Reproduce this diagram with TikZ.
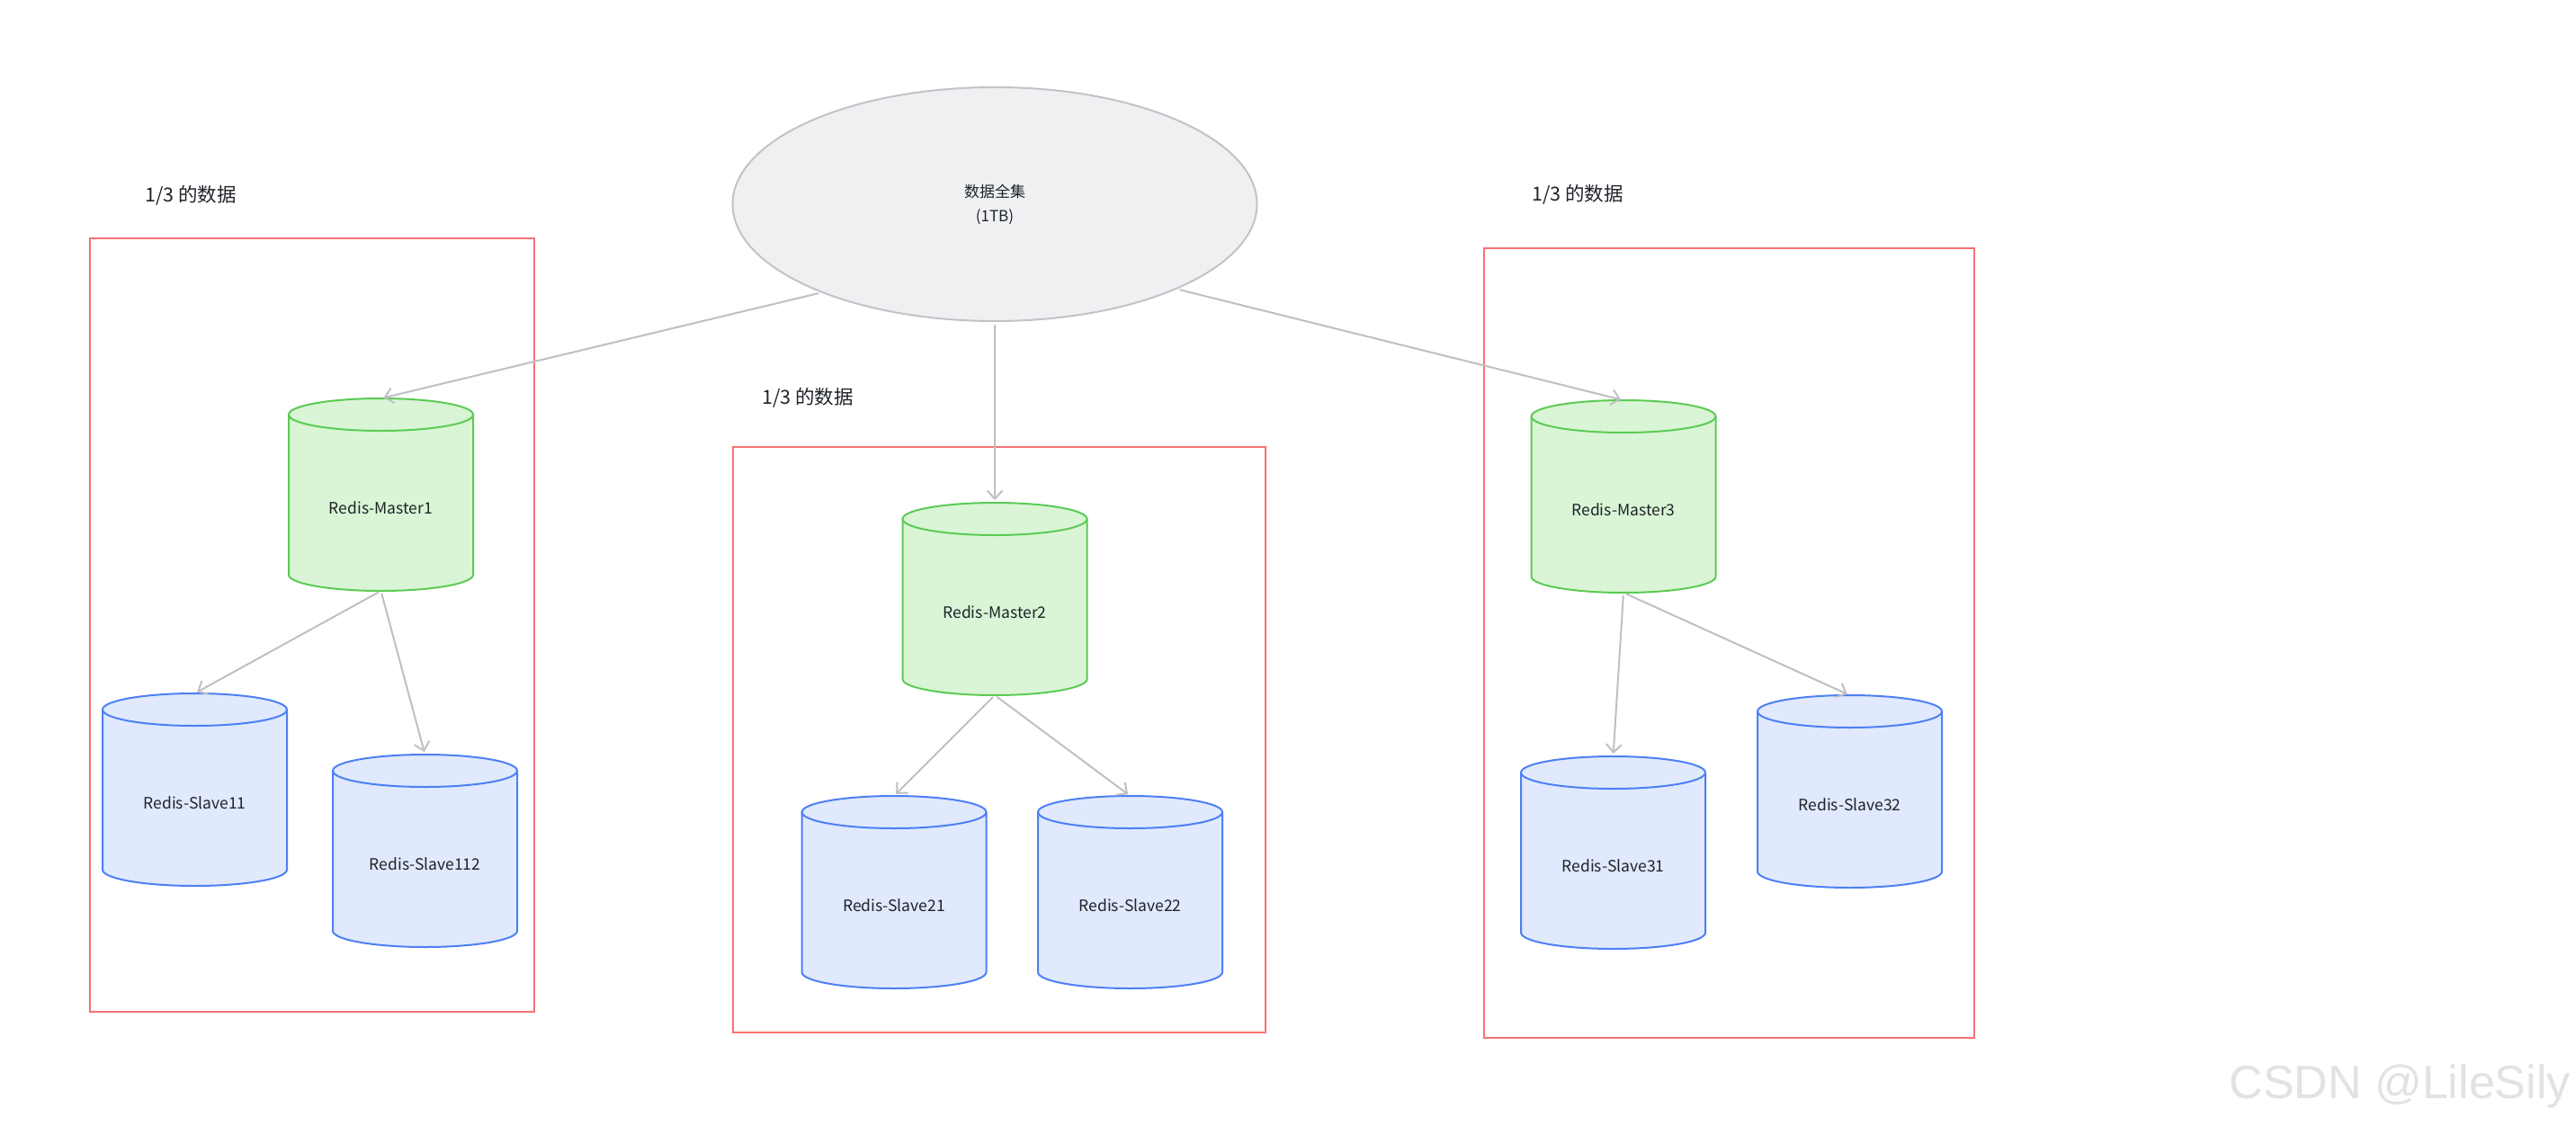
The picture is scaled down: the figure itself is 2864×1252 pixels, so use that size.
\documentclass[tikz,border=0pt]{standalone}
\usepackage{fontspec}
\setmainfont{Noto Sans CJK SC}
\newfontfamily\wmfont{Liberation Sans}
\usetikzlibrary{arrows.meta,shapes.geometric}
\definecolor{ellfill}{HTML}{EFF0F2}
\definecolor{ellline}{HTML}{C2C3C7}
\definecolor{mfill}{HTML}{D9F5D5}
\definecolor{mline}{HTML}{5BCB55}
\definecolor{sfill}{HTML}{E0E9FD}
\definecolor{sline}{HTML}{4D80F4}
\definecolor{boxred}{HTML}{F87171}
\definecolor{conngray}{HTML}{BFC0C4}
\definecolor{txt}{HTML}{1F2329}
\definecolor{wm}{HTML}{E2E2E2}
\tikzset{
  conn/.style={draw=conngray, line width=2pt, -{Straight Barb[length=9pt,width=17pt]}, shorten <=3pt, shorten >=3pt},
  groupbox/.style={draw=boxred, line width=2.5pt},
  grouplabel/.style={anchor=west, inner sep=0pt, text=txt, font=\fontsize{21.5}{25}\selectfont},
  cylbox/.style={inner sep=0pt, outer sep=0pt, minimum width=205pt, minimum height=214pt},
  cyltext/.style={inner sep=0pt, text=txt, font=\fontsize{17.5}{21}\selectfont},
}
\newcommand\dbcyl[5]{%
  \path[fill=#4fill, draw=#4line, line width=2pt]
    (#2-102.5,#3+18) arc[start angle=180,end angle=360,x radius=102.5,y radius=18]
    -- (#2+102.5,#3+196) arc[start angle=0,end angle=180,x radius=102.5,y radius=18] -- cycle;
  \draw[#4line, line width=2pt] (#2-102.5,#3+18) arc[start angle=180,end angle=0,x radius=102.5,y radius=18];
  \node[cylbox] (#1) at (#2,#3+107) {};
  \node[cyltext] (#1t) at (#2,#3+122) {#5};
}
\begin{document}
\begin{tikzpicture}[x=1pt,y=-1pt]
\useasboundingbox[fill=white] (0,0) rectangle (2864,1252);

% group boxes
\draw[groupbox] (100,265) rectangle (594,1125);
\draw[groupbox] (815,497) rectangle (1407,1148);
\draw[groupbox] (1650,276) rectangle (2195,1154);

\node[grouplabel] (lab1) at (161,217) {1/3 的数据};
\node[grouplabel] (lab2) at (847,442) {1/3 的数据};
\node[grouplabel] (lab3) at (1703,216) {1/3 的数据};

% top ellipse
\node[ellipse, draw=ellline, fill=ellfill, line width=2pt, minimum width=583pt, minimum height=260pt,
      inner sep=0pt, align=center, text=txt, font=\fontsize{17}{27}\selectfont] (ell) at (1106,227) {数据全集\\(1TB)};

% cylinders
\dbcyl{m1}{423.5}{443}{m}{Redis-Master1}
\dbcyl{s11}{216.5}{771}{s}{Redis-Slave11}
\dbcyl{s112}{472.5}{839}{s}{Redis-Slave112}
\dbcyl{m2}{1106}{559}{m}{Redis-Master2}
\dbcyl{s21}{994}{885}{s}{Redis-Slave21}
\dbcyl{s22}{1256.5}{885}{s}{Redis-Slave22}
\dbcyl{m3}{1805}{445}{m}{Redis-Master3}
\dbcyl{s31}{1793.5}{841}{s}{Redis-Slave31}
\dbcyl{s32}{2056.5}{773}{s}{Redis-Slave32}

% connectors
\draw[conn] (ell.207.2) -- (m1.north);
\draw[conn] (ell.270) -- (m2.north);
\draw[conn] (ell.335.1) -- (m3.north);
\draw[conn] (m1.south) -- (s11.north);
\draw[conn] (m1.south) -- (s112.north);
\draw[conn] (m2.south) -- (s21.north);
\draw[conn] (m2.south) -- (s22.north);
\draw[conn] (m3.south) -- (s31.north);
\draw[conn] (m3.south) -- (s32.north);

% watermark
\node[anchor=base east, inner sep=0pt, text=wm, font=\wmfont\fontsize{52}{60}\selectfont] (wmark) at (2858,1221) {CSDN @LileSily};
\end{tikzpicture}
\end{document}
